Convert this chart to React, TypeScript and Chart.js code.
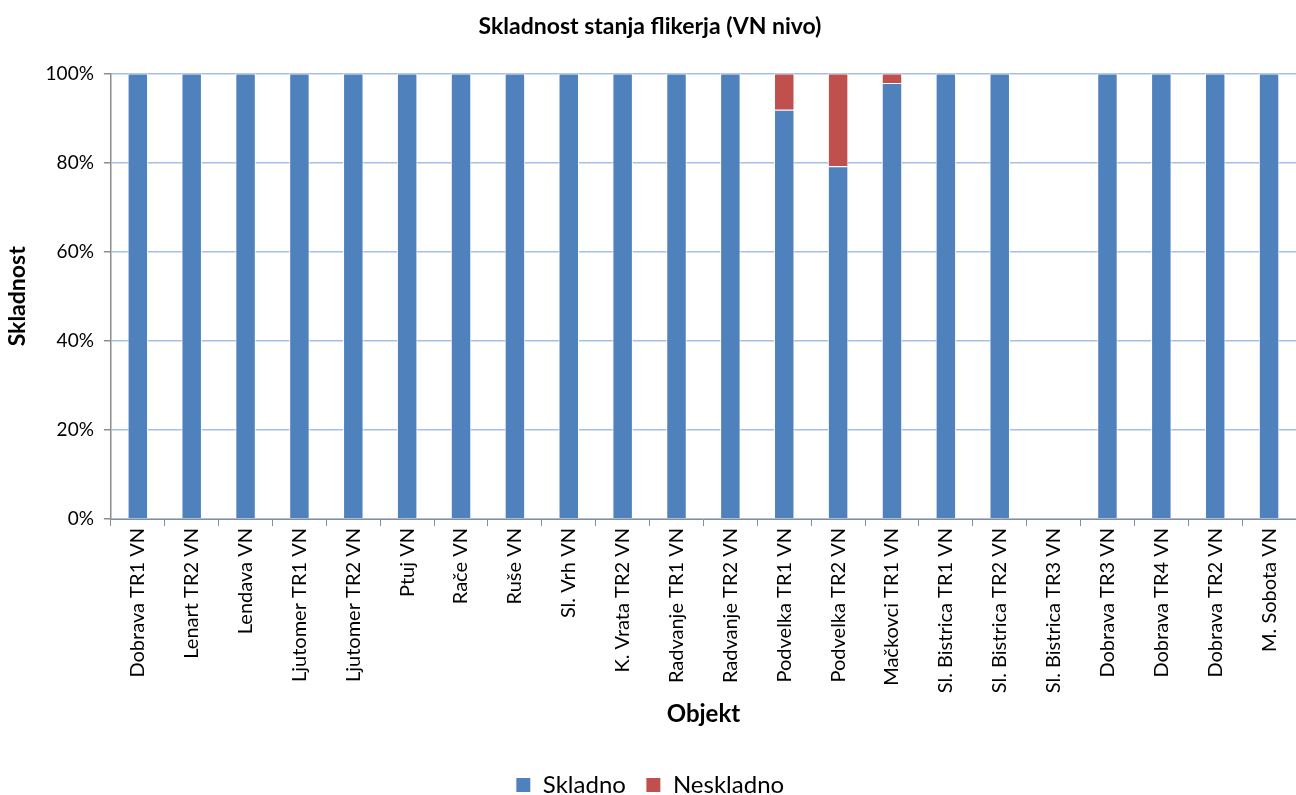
import React, { useEffect, useRef } from "react";
import { Chart, registerables } from "chart.js";

Chart.register(...registerables);

const categories = [
  "Dobrava TR1 VN",
  "Lenart TR2 VN",
  "Lendava VN",
  "Ljutomer TR1 VN",
  "Ljutomer TR2 VN",
  "Ptuj VN",
  "Rače VN",
  "Ruše VN",
  "Sl. Vrh VN",
  "K. Vrata TR2 VN",
  "Radvanje TR1 VN",
  "Radvanje TR2 VN",
  "Podvelka TR1 VN",
  "Podvelka TR2 VN",
  "Mačkovci TR1 VN",
  "Sl. Bistrica TR1 VN",
  "Sl. Bistrica TR2 VN",
  "Sl. Bistrica TR3 VN",
  "Dobrava TR3 VN",
  "Dobrava TR4 VN",
  "Dobrava TR2 VN",
  "M. Sobota VN",
];

const skladno = [100, 100, 100, 100, 100, 100, 100, 100, 100, 100, 100, 100, 91.9, 79.2, 97.9, 100, 100, null, 100, 100, 100, 100];
const neskladno = [0, 0, 0, 0, 0, 0, 0, 0, 0, 0, 0, 0, 8.1, 20.8, 2.1, 0, 0, null, 0, 0, 0, 0];

const yTicks = [0, 20, 40, 60, 80, 100];

const FONT = "Lato, 'Open Sans', sans-serif";

export default function App() {
  const ref = useRef<HTMLCanvasElement | null>(null);
  useEffect(() => {
    document.body.style.margin = "0";
    if (!ref.current) return;
    const chart = new Chart(ref.current, {
      type: "bar",
      data: {
        labels: categories,
        datasets: [
          {
            label: "Skladno",
            data: skladno,
            backgroundColor: "#4f81bd",
            borderColor: "#ffffff",
            borderWidth: 1,
            barPercentage: 0.38,
            categoryPercentage: 1,
          },
          {
            label: "Neskladno",
            data: neskladno,
            backgroundColor: "#c0504d",
            borderColor: "#ffffff",
            borderWidth: 1,
            barPercentage: 0.38,
            categoryPercentage: 1,
          },
        ],
      },
      options: {
        responsive: false,
        animation: false,
        layout: { padding: { left: 4, right: 0, top: 8, bottom: -12 } },
        plugins: {
          title: {
            display: true,
            text: "Skladnost stanja flikerja (VN nivo)",
            color: "#000",
            font: { family: FONT, size: 23, weight: "bold" },
            padding: { top: 5, bottom: 33 },
          },
          legend: {
            position: "bottom",
            labels: {
              color: "#000",
              font: { family: FONT, size: 24 },
              boxWidth: 15,
              boxHeight: 15,
              padding: 20,
            },
          },
          tooltip: { enabled: false },
        },
        scales: {
          x: {
            stacked: true,
            grid: {
              display: true,
              drawOnChartArea: false,
              offset: true,
              tickLength: 7,
              tickColor: "#8c8c8c",
            },
            border: { color: "#8c8c8c", width: 1 },
            ticks: {
              color: "#000",
              font: { family: FONT, size: 20 },
              maxRotation: 90,
              minRotation: 90,
              autoSkip: false,
              padding: 2,
            },
            title: {
              display: true,
              text: "Objekt",
              color: "#000",
              font: { family: FONT, size: 24, weight: "bold" },
              padding: { top: 5, bottom: 24 },
            },
          },
          y: {
            stacked: true,
            min: 0,
            max: 100,
            afterBuildTicks: (axis: any) => {
              axis.ticks = yTicks.map((v) => ({ value: v }));
            },
            grid: {
              color: "#a7bfe4",
              lineWidth: 1.5,
              tickLength: 7,
              tickColor: "#8c8c8c",
            },
            border: { color: "#8c8c8c", width: 1.5 },
            ticks: {
              color: "#000",
              font: { family: FONT, size: 19 },
              callback: (v: any) => v + "%",
              padding: 10,
            },
            title: {
              display: true,
              text: "Skladnost",
              color: "#000",
              font: { family: FONT, size: 23, weight: "bold" },
              padding: { top: 0, bottom: 4 },
            },
          },
        },
      },
    });
    return () => chart.destroy();
  }, []);
  return (
    <div style={{ position: "fixed", left: 0, top: 0, width: 1296, height: 795, background: "#fff" }}>
      <canvas ref={ref} width={1296} height={795} />
    </div>
  );
}
